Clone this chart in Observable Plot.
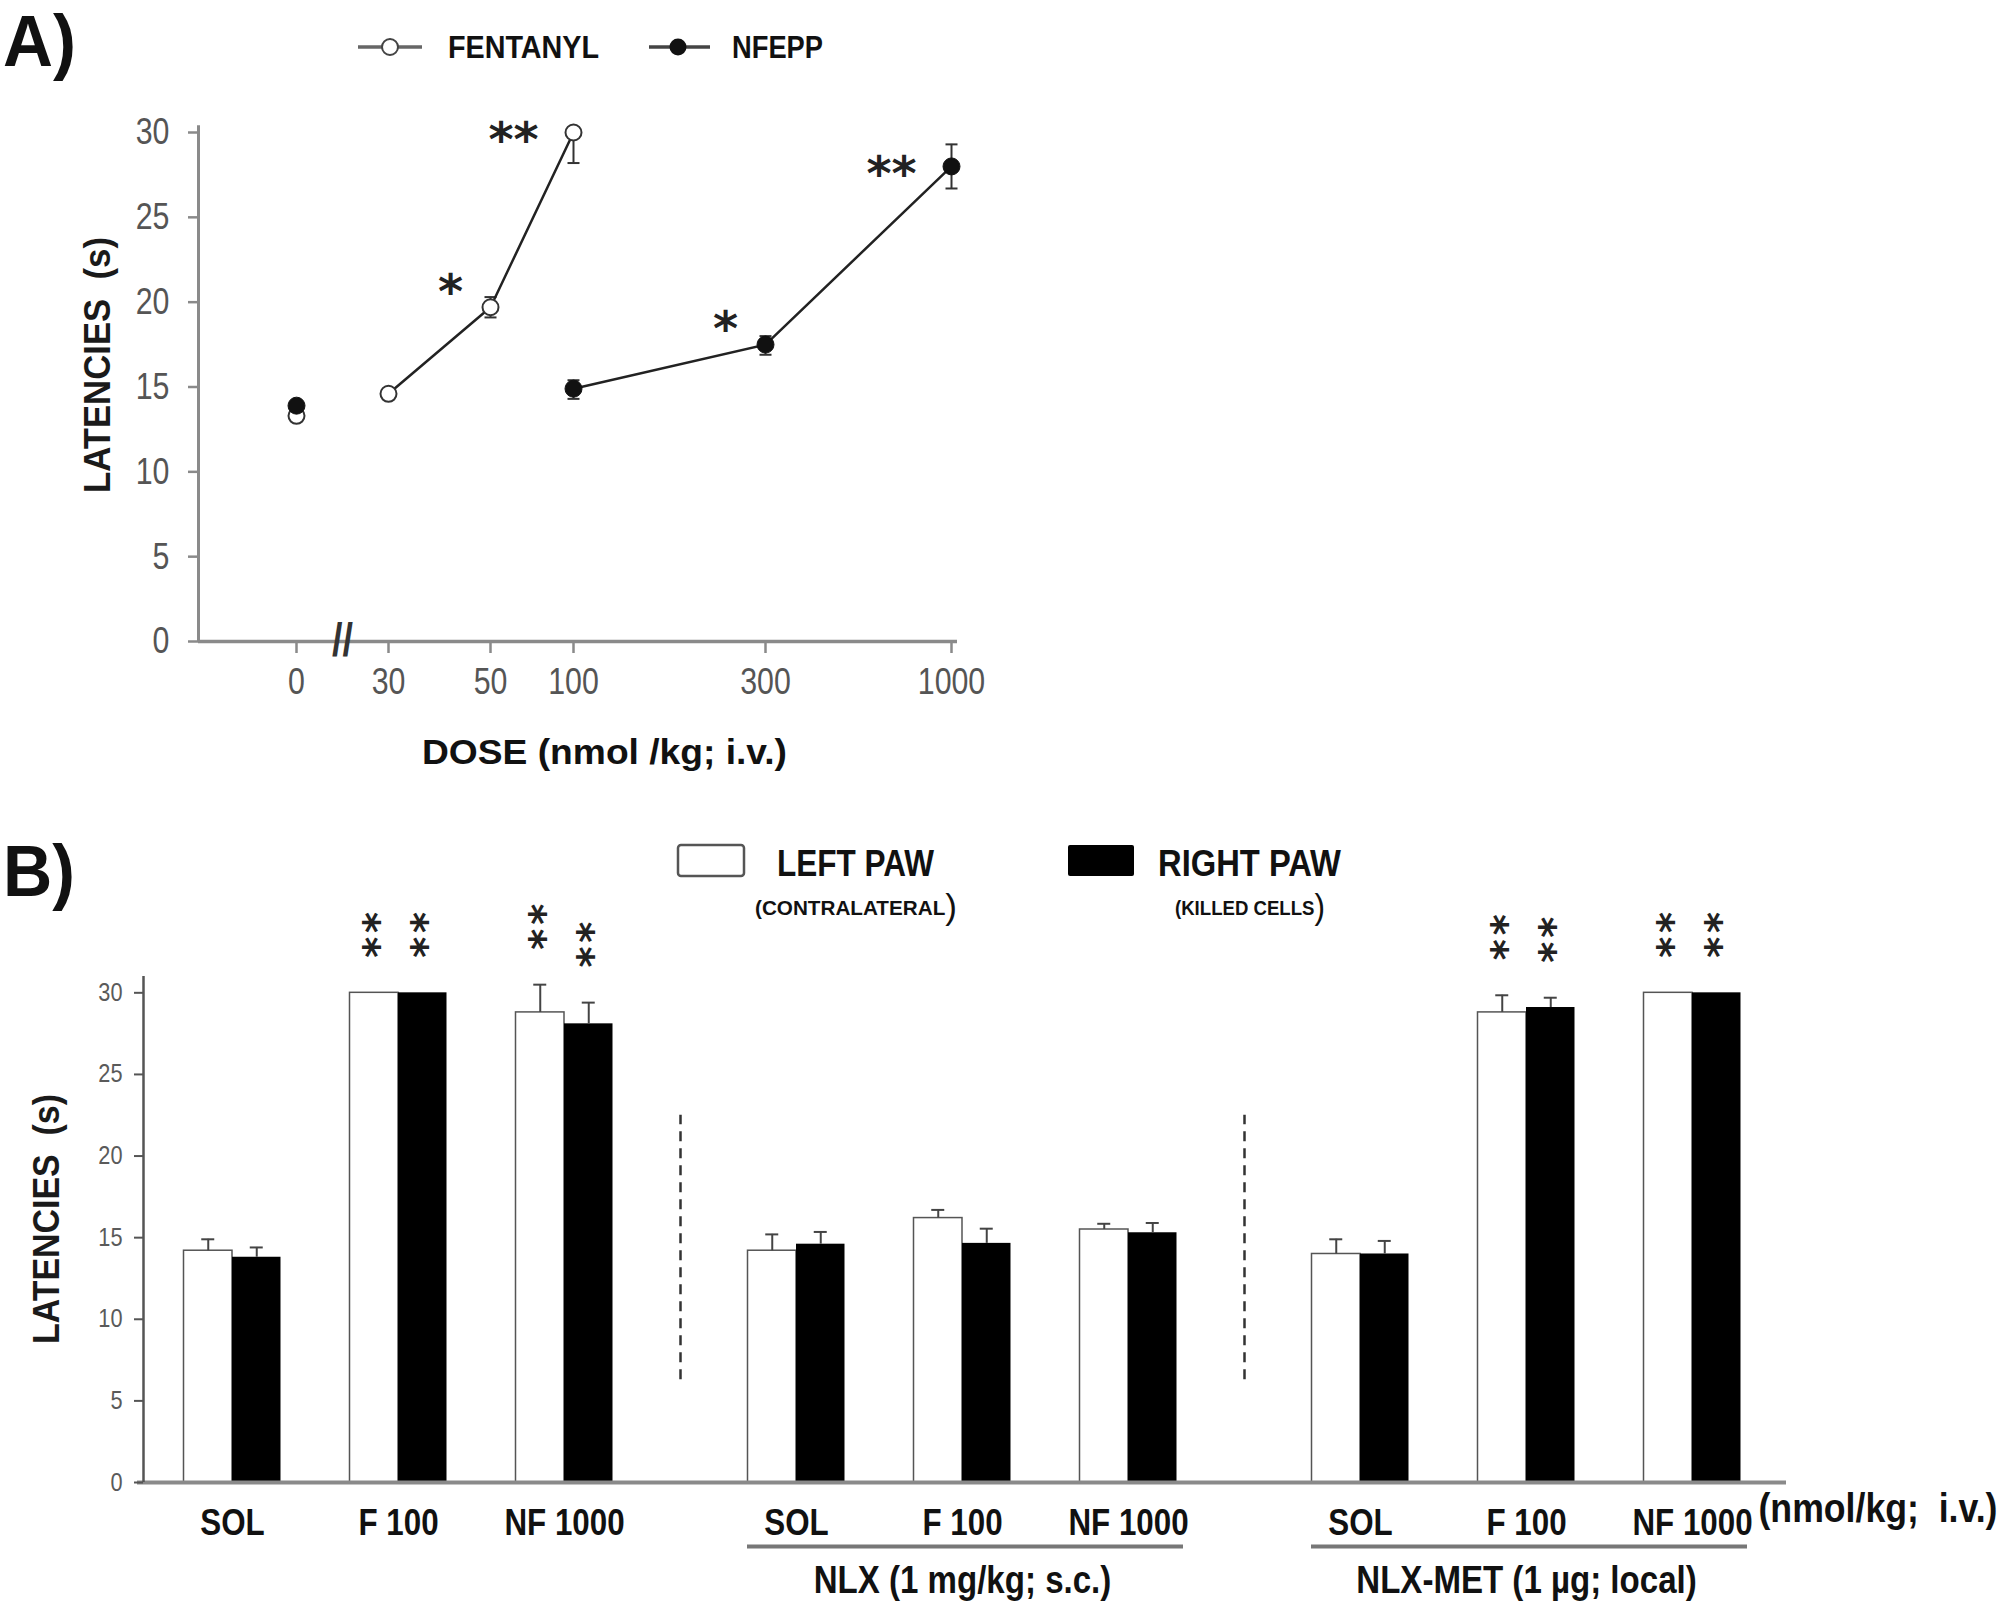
<!DOCTYPE html>
<html><head><meta charset="utf-8">
<script src="https://cdn.jsdelivr.net/npm/d3@7"></script>
<script src="https://cdn.jsdelivr.net/npm/@observablehq/plot@0.6"></script>
<style>
body{margin:0;background:#fff;}
#page{position:relative;width:2007px;height:1602px;overflow:hidden;background:#fff;}
.t{position:absolute;white-space:pre;line-height:1;color:#111;}
</style></head><body><div id="page"></div>
<script>
// ---------- Panel A data ----------
const fentanylDose = [0, 30, 50, 100];
const fentanylMean = [13.3, 14.6, 19.7, 30.0];
const fentanylLo   = [13.3, 14.6, 19.1, 28.2];
const fentanylHi   = [13.3, 14.6, 20.3, 30.0];
const fentanylStars = ["", "", "*", "**"];
const nfeppDose = [0, 100, 300, 1000];
const nfeppMean = [13.9, 14.9, 17.5, 28.0];
const nfeppLo   = [13.9, 14.3, 16.9, 26.7];
const nfeppHi   = [13.9, 15.4, 18.0, 29.3];
const nfeppStars = ["", "", "*", "**"];
const doseTicks = [0, 30, 50, 100, 300, 1000];
const latencyTicks = [0, 5, 10, 15, 20, 25, 30];
const axisBreakDose = [15];

// ---------- Panel B data ----------
const groups = ["IV", "NLX", "NLX-MET"];
const groupLabels = ["", "NLX (1 mg/kg; s.c.)", "NLX-MET (1 µg; local)"];
const treatments = ["SOL", "F 100", "NF 1000"];
const leftMean  = [[14.2, 30.0, 28.8], [14.2, 16.2, 15.5], [14.0, 28.8, 30.0]];
const leftSem   = [[0.7, 0, 1.7], [1.0, 0.5, 0.35], [0.9, 1.05, 0]];
const rightMean = [[13.8, 30.0, 28.1], [14.6, 14.65, 15.3], [14.0, 29.1, 30.0]];
const rightSem  = [[0.6, 0, 1.3], [0.75, 0.9, 0.6], [0.8, 0.6, 0]];
const leftStars  = [["", "**", "**"], ["", "", ""], ["", "**", "**"]];
const rightStars = [["", "**", "**"], ["", "", ""], ["", "**", "**"]];
const separatorSpan = [6.3, 22.5];
const unitNote = "(nmol/kg;  i.v.)";

// ---------- styles ----------
const ARIAL = '"Liberation Sans", Arial, sans-serif';
const STARFONT = '"DejaVu Sans", sans-serif';
const AXIS = "#8a8a8a", TICKTXT = "#555";
const page = document.getElementById("page");

function label(html, x, cy, capH, targetW, opts = {}) {
  const size = capH / 0.716;
  const d = document.createElement("div");
  d.className = "t";
  d.innerHTML = html;
  d.style.fontSize = size + "px";
  d.style.fontFamily = opts.family || ARIAL;
  d.style.fontWeight = opts.weight || "bold";
  d.style.top = (cy - 0.49 * size) + "px";
  d.style.left = x + "px";
  page.appendChild(d);
  const w = d.getBoundingClientRect().width;
  if (targetW && w > 0) {
    d.style.transformOrigin = "0 0";
    d.style.transform = `scaleX(${targetW / w})`;
  }
  return d;
}
function vlabel(txt, cx, cy, size, targetLen) {
  const d = document.createElement("div");
  d.className = "t";
  d.textContent = txt;
  d.style.left = cx + "px";
  d.style.top = cy + "px";
  d.style.fontSize = size + "px";
  d.style.fontFamily = ARIAL;
  d.style.fontWeight = "bold";
  d.style.color = "#1a1a1a";
  page.appendChild(d);
  const w = d.getBoundingClientRect().width;
  d.style.transform = `translate(-50%,-50%) rotate(-90deg) scaleX(${targetLen / w})`;
}
function place(el, left, top) {
  el.style.position = "absolute";
  el.style.left = left + "px";
  el.style.top = top + "px";
  page.appendChild(el);
}
const isStars = t => /^[*\s]+$/.test(t.textContent);
function squeeze(svg, s) {
  svg.querySelectorAll("text").forEach(t => {
    if (isStars(t)) return;
    const tr = t.getAttribute("transform");
    if (tr && tr.includes("translate")) t.setAttribute("transform", tr + ` scale(${s},1)`);
  });
}

// ---------- Panel A ----------
const rowsA = [];
fentanylDose.forEach((d, i) => rowsA.push({drug: "FENTANYL", dose: d, mean: fentanylMean[i], lo: fentanylLo[i], hi: fentanylHi[i], star: fentanylStars[i]}));
nfeppDose.forEach((d, i) => rowsA.push({drug: "NFEPP", dose: d, mean: nfeppMean[i], lo: nfeppLo[i], hi: nfeppHi[i], star: nfeppStars[i]}));
const capsA = [];
rowsA.forEach(r => { if (r.lo < r.mean) capsA.push({dose: r.dose, y: r.lo}); if (r.hi > r.mean) capsA.push({dose: r.dose, y: r.hi}); });
const capSymbol = {draw(ctx, size) { const w = Math.sqrt(size / Math.PI); ctx.moveTo(-w, 0); ctx.lineTo(w, 0); }};

const AW = 1000, AmL = 198, AmR = 43;
const plotA = Plot.plot({
  width: AW, height: 800,
  marginLeft: AmL, marginRight: AmR, marginTop: 132, marginBottom: 159,
  x: {type: "linear", domain: doseTicks, range: [296, 388, 490, 573, 765, 951]},
  y: {domain: [0, 30]},
  style: {fontFamily: ARIAL, background: "transparent", overflow: "visible"},
  marks: [
    Plot.ruleY([0], {stroke: AXIS, strokeWidth: 3.5}),
    Plot.ruleX([0], {x: null, y1: 0, y2: 30.4, dx: -(AW - AmL - AmR) / 2, stroke: AXIS, strokeWidth: 3}),
    Plot.axisY({ticks: latencyTicks, tickSize: 10, tickPadding: 19, fontSize: 37, stroke: AXIS, fill: TICKTXT, strokeWidth: 2.5, label: null}),
    Plot.axisX({ticks: doseTicks, tickSize: 12, tickPadding: 14, fontSize: 37, stroke: AXIS, fill: TICKTXT, strokeWidth: 2.5, label: null, tickFormat: d => String(d)}),
    Plot.text(axisBreakDose, {x: d => d, y: 0, text: () => "//", fontSize: 46, fontWeight: "bold", fill: "#333"}),
    Plot.ruleX(rowsA.filter(r => r.hi > r.lo), {x: "dose", y1: "lo", y2: "hi", stroke: "#333", strokeWidth: 2}),
    Plot.dot(capsA, {x: "dose", y: "y", symbol: capSymbol, r: 6, stroke: "#333", strokeWidth: 2, fill: "none"}),
    Plot.line(rowsA.filter(r => r.dose > 0), {x: "dose", y: "mean", z: "drug", stroke: "#222", strokeWidth: 2.5}),
    Plot.dot(rowsA.filter(r => r.drug === "FENTANYL"), {x: "dose", y: "mean", r: 8, fill: "white", stroke: "#333", strokeWidth: 2}),
    Plot.dot(rowsA.filter(r => r.drug === "NFEPP"), {x: "dose", y: "mean", r: 8.5, fill: "#111", stroke: "#111", strokeWidth: 1}),
    Plot.text(rowsA.filter(r => r.star === "*"), {x: "dose", y: "mean", text: "star", dx: -40, dy: -15, fontSize: 48, fontWeight: "bold", fontFamily: STARFONT, fill: "#222"}),
    Plot.text(rowsA.filter(r => r.star === "**"), {x: "dose", y: "mean", text: "star", dx: -60, dy: 8, fontSize: 48, fontWeight: "bold", fontFamily: STARFONT, fill: "#222"})
  ]
});
squeeze(plotA, 0.82);
place(plotA, 0, 0);

// Panel A legend & labels
label("A)", 3, 41, 52, 73);
const legA = document.createElementNS("http://www.w3.org/2000/svg", "svg");
legA.setAttribute("width", 400); legA.setAttribute("height", 30);
legA.innerHTML = `<line x1="0" x2="64" y1="15" y2="15" stroke="#666" stroke-width="3.5"/>
<circle cx="32" cy="15" r="8" fill="white" stroke="#444" stroke-width="2"/>
<line x1="291" x2="352" y1="15" y2="15" stroke="#444" stroke-width="3.5"/>
<circle cx="320" cy="15" r="8.5" fill="#111"/>`;
place(legA, 358, 32);
label("FENTANYL", 448, 47, 23, 151);
label("NFEPP", 732, 47, 23, 91);
vlabel("LATENCIES  (s)", 97, 365, 37, 256);
label("DOSE (nmol /kg; i.v.)", 422, 752, 25, 365);

// ---------- Panel B ----------
const rowsB = [];
groups.forEach((g, gi) => treatments.forEach((t, ti) => {
  rowsB.push({group: g, dose: t, paw: "L", mean: leftMean[gi][ti], sem: leftSem[gi][ti], star: leftStars[gi][ti]});
  rowsB.push({group: g, dose: t, paw: "R", mean: rightMean[gi][ti], sem: rightSem[gi][ti], star: rightStars[gi][ti]});
}));
const L = rowsB.filter(d => d.paw === "L"), R = rowsB.filter(d => d.paw === "R");
const groupRows = groups.map((g, i) => ({group: g, label: groupLabels[i]})).filter(d => d.label);

const BW = 2007, BH = 697, BTOP = 905;
const mL = 116, mR = 199;
const facetW = (BW - mL - mR) / 3;
const step = 166, bw = 97;
const pIn = 1 - bw / step;
const pOut = (facetW / step - 3 + pIn) / 2;
const capW = 13, axisShift = 27;
const errStyle = {stroke: "#444", strokeWidth: 2};
// stacked significance stars: the "**" string is set vertically (rotated run)
const starFont = 40;
const starStyle = {rotate: 90, fontSize: starFont, fontWeight: "bold", fontFamily: STARFONT, fill: "#222", dy: -56};
const starShift = -0.27 * starFont;

const plotB = Plot.plot({
  width: BW, height: BH,
  marginLeft: mL, marginRight: mR, marginTop: 71, marginBottom: 120,
  fx: {domain: groups, padding: 0, axis: null},
  x: {domain: treatments, paddingInner: pIn, paddingOuter: pOut, round: false},
  y: {domain: [0, 31]},
  style: {fontFamily: ARIAL, background: "transparent", overflow: "visible"},
  marks: [
    Plot.barY(L, {fx: "group", x: "dose", y: "mean", fill: "white", stroke: "#555", strokeWidth: 1.5, insetRight: bw / 2}),
    Plot.barY(R, {fx: "group", x: "dose", y: "mean", fill: "#000", insetLeft: bw / 2}),
    Plot.ruleY([groups[0]], {fx: d => d, y: () => 0, insetLeft: 21, stroke: AXIS, strokeWidth: 4}),
    Plot.ruleY([groups[1]], {fx: d => d, y: () => 0, stroke: AXIS, strokeWidth: 4}),
    Plot.ruleY([groups[2]], {fx: d => d, y: () => 0, insetRight: 22, stroke: AXIS, strokeWidth: 4}),
    Plot.ruleX([groups[0]], {fx: d => d, x: null, y1: 0, y2: 31, dx: -facetW / 2 + axisShift, stroke: "#555", strokeWidth: 2.5}),
    Plot.axisY({ticks: latencyTicks, dx: axisShift, tickSize: 9, tickPadding: 12, fontSize: 25, stroke: "#555", fill: "#5a5a5a", strokeWidth: 2, label: null}),
    Plot.axisX({tickSize: 0, tickPadding: 27, fontSize: 36, fontWeight: "bold", fill: "#111", label: null}),
    Plot.ruleX(L.filter(d => d.sem > 0), {fx: "group", x: "dose", y1: "mean", y2: d => d.mean + d.sem, dx: -bw / 4, ...errStyle}),
    Plot.ruleX(R.filter(d => d.sem > 0), {fx: "group", x: "dose", y1: "mean", y2: d => d.mean + d.sem, dx: bw / 4, ...errStyle}),
    Plot.tickY(L.filter(d => d.sem > 0), {fx: "group", x: "dose", y: d => d.mean + d.sem, dx: -bw / 4, insetLeft: (bw - capW) / 2, insetRight: (bw - capW) / 2, ...errStyle}),
    Plot.tickY(R.filter(d => d.sem > 0), {fx: "group", x: "dose", y: d => d.mean + d.sem, dx: bw / 4, insetLeft: (bw - capW) / 2, insetRight: (bw - capW) / 2, ...errStyle}),
    Plot.text(L.filter(d => d.star), {fx: "group", x: "dose", y: d => d.mean + d.sem, text: "star", dx: -bw / 4 + starShift, ...starStyle}),
    Plot.text(R.filter(d => d.star), {fx: "group", x: "dose", y: d => d.mean + d.sem, text: "star", dx: bw / 4 + starShift, ...starStyle}),
    Plot.ruleX(groups.slice(1), {fx: d => d, x: null, y1: separatorSpan[0], y2: separatorSpan[1], dx: -facetW / 2, stroke: "#333", strokeWidth: 2.5, strokeDasharray: "10,7"}),
    Plot.ruleY(groupRows, {fx: "group", y: () => 0, dy: 64, insetLeft: 67, insetRight: 61, stroke: "#777", strokeWidth: 4}),
    Plot.text(groupRows, {fx: "group", text: "label", frameAnchor: "bottom", dy: 110, fontSize: 38, fontWeight: "bold", fill: "#111"}),
    Plot.text([{group: groups[2], note: unitNote}], {fx: "group", text: "note", frameAnchor: "bottom-right", textAnchor: "start", dx: -50, dy: 39, fontSize: 41, fontWeight: "bold", fill: "#111"})
  ]
});
squeeze(plotB, 0.87);
plotB.querySelectorAll("text").forEach(t => { if (isStars(t)) t.style.letterSpacing = "4px"; });
place(plotB, 0, BTOP);

// Panel B legend & labels
label("B)", 3, 871, 52, 72);
const legB = document.createElementNS("http://www.w3.org/2000/svg", "svg");
legB.setAttribute("width", 480); legB.setAttribute("height", 40);
legB.innerHTML = `<rect x="2" y="2" width="66" height="31" rx="3" fill="white" stroke="#555" stroke-width="2.5"/>
<rect x="392" y="2" width="66" height="31" rx="2" fill="#000"/>`;
place(legB, 676, 843);
label("LEFT PAW", 777, 864, 26, 157);
label("RIGHT PAW", 1158, 864, 26, 183);
label('(CONTRALATERAL<span style="font-size:1.7em;font-weight:normal;vertical-align:-0.12em">)</span>', 755, 900, 15, 202);
label('(KILLED CELLS<span style="font-size:1.7em;font-weight:normal;vertical-align:-0.12em">)</span>', 1175, 900, 15, 150);
vlabel("LATENCIES  (s)", 46, 1219, 37, 250);
</script></body></html>
